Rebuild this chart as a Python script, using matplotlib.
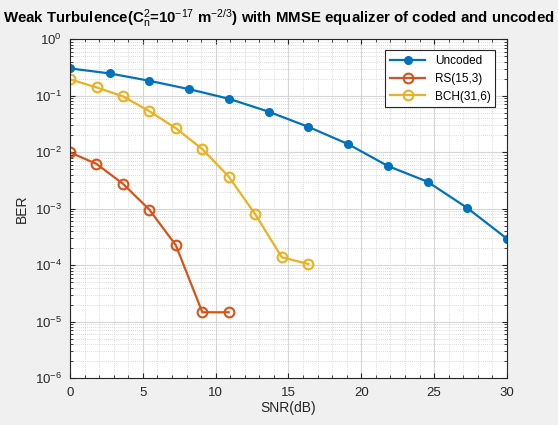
import matplotlib
matplotlib.use("Agg")
import matplotlib.pyplot as plt
import numpy as np
from matplotlib.ticker import LogLocator, MultipleLocator, NullFormatter

# values
snr_uncoded = np.linspace(0, 30, 12)
ber_uncoded = [0.303, 0.247, 0.183, 0.130, 0.088, 0.052, 0.028, 0.0139, 0.0057, 0.0030, 0.00103, 0.000294]

snr_bch = np.linspace(0, 16.36, 10)
ber_bch = [0.194, 0.140, 0.097, 0.053, 0.0264, 0.0113, 0.00367, 0.00079, 0.000138, 0.000105]

snr_rs = np.linspace(0, 10.9, 7)
ber_rs = [0.0099, 0.0062, 0.00276, 0.00096, 0.000225, 1.47e-5, 1.47e-5]

plt.rcParams["font.family"] = ["Liberation Sans", "DejaVu Sans"]
plt.rcParams["mathtext.fontset"] = "custom"
plt.rcParams["mathtext.rm"] = "Liberation Sans"
plt.rcParams["mathtext.it"] = "Liberation Sans:italic"
plt.rcParams["mathtext.bf"] = "Liberation Sans:bold"

fig = plt.figure(figsize=(5.58, 4.25), dpi=100, facecolor="#f0f0f0")
ax = fig.add_axes([0.1255, 0.110, 0.783, 0.798])
ax.set_facecolor("white")

ax.semilogy(snr_uncoded, ber_uncoded, "-o", color="#0072BD", lw=1.6,
            ms=5.5, mfc="#0072BD", label="Uncoded")
ax.semilogy(snr_rs, ber_rs, "-o", color="#D95319", lw=1.6,
            ms=7, mfc="none", mew=1.5, label="RS(15,3)")
ax.semilogy(snr_bch, ber_bch, "-o", color="#EDB120", lw=1.6,
            ms=7, mfc="none", mew=1.5, label="BCH(31,6)")

ax.set_xlim(0, 30)
ax.set_ylim(1e-6, 1)
ax.xaxis.set_major_locator(MultipleLocator(5))
ax.xaxis.set_minor_locator(MultipleLocator(1))
ax.xaxis.set_minor_formatter(NullFormatter())
ax.yaxis.set_major_locator(LogLocator(base=10, numticks=10))
ax.yaxis.set_minor_locator(LogLocator(base=10, subs=np.arange(2, 10), numticks=20))
ax.yaxis.set_minor_formatter(NullFormatter())

ax.grid(True, which="major", color="#d6d6d6", lw=0.8)
ax.grid(True, which="minor", color="#d0d0d0", lw=0.6, ls=(0, (1, 1.5)))
ax.set_axisbelow(True)
ax.tick_params(which="both", direction="in", top=True, right=True, labelsize=9.5,
               colors="#262626", pad=6)
ax.tick_params(which="minor", length=2)
for s in ax.spines.values():
    s.set_color("#262626")
    s.set_linewidth(0.8)

ax.set_xlabel("SNR(dB)", fontsize=10, color="#262626", labelpad=2)
ax.set_ylabel("BER", fontsize=10, color="#262626")
fig.text(0.5, 0.958,
         r"Weak Turbulence(C$_\mathrm{n}^2$=10$^{-17}$ m$^{-2/3}$) with MMSE equalizer of coded and uncoded",
         fontsize=10.8, fontweight="bold", ha="center", va="center")

leg = ax.legend(loc="upper right", fontsize=8.5, fancybox=False, framealpha=1,
                edgecolor="#262626", bbox_to_anchor=(0.987, 0.985), handlelength=3)
leg.get_frame().set_linewidth(0.8)

fig.savefig("out.png", facecolor=fig.get_facecolor())
